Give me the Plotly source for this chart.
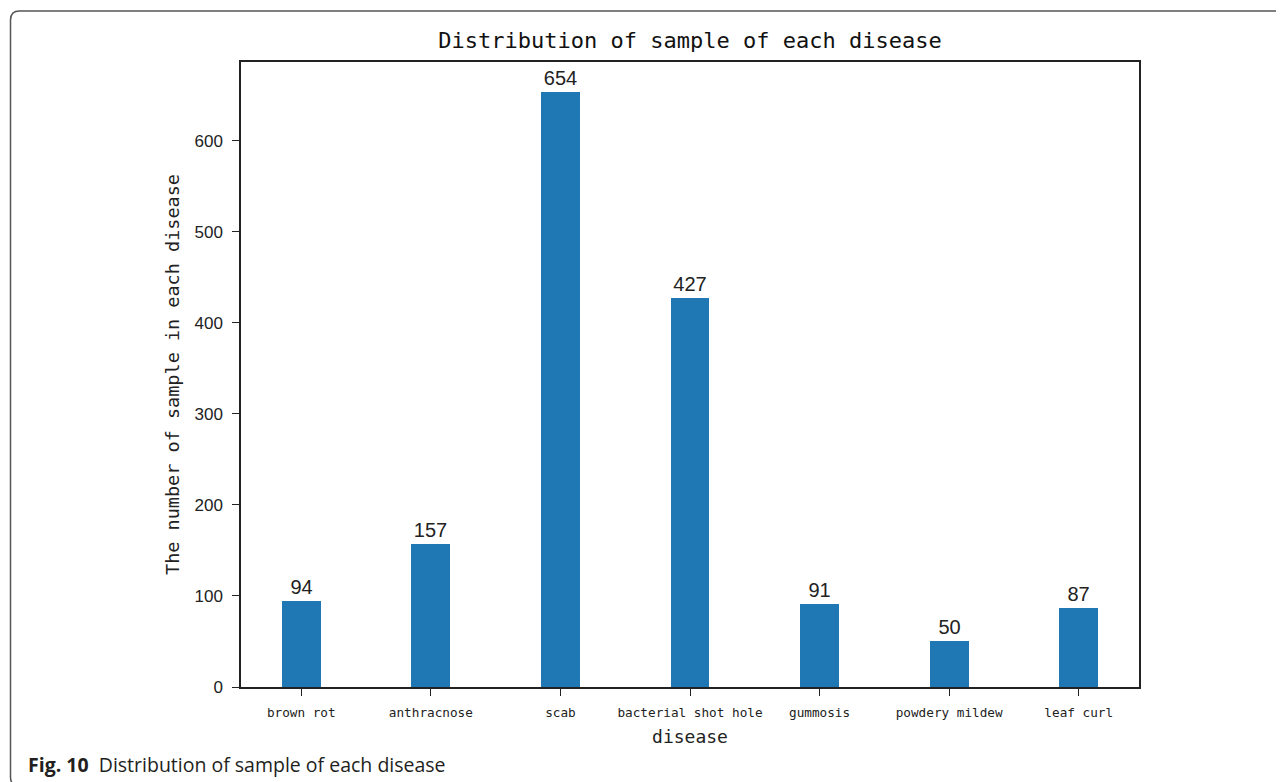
import plotly.graph_objects as go

categories = ["brown rot", "anthracnose", "scab", "bacterial shot hole",
              "gummosis", "powdery mildew", "leaf curl"]
counts = [94, 157, 654, 427, 91, 50, 87]
y_ticks = [0, 100, 200, 300, 400, 500, 600]

OFF = 8  # page body margin
W, H = 1284 - OFF, 782 - OFF
L, R, T, B = 241 - OFF, 1139 - OFF, 62 - OFF, 687 - OFF

def px(x):
    return (x - OFF - L) / (R - L)

def py(y):
    return (B - (y - OFF)) / (B - T)

fig = go.Figure()
fig.add_trace(go.Bar(
    x=list(range(len(categories))), y=counts, width=0.3,
    marker=dict(color="#1f77b4", line=dict(width=0)),
    text=[str(c) for c in counts], textposition="outside",
    textfont=dict(family="Liberation Sans", size=20, color="#222"),
    cliponaxis=False,
))

pts = [(1290, 11), (19.5, 11), (10.5, 11), (10.5, 20), (10.5, 777), (10.5, 786), (19.5, 786)]
c = [(px(x), py(y)) for x, y in pts]
border = ("M {:.5f} {:.5f} L {:.5f} {:.5f} Q {:.5f} {:.5f} {:.5f} {:.5f} "
          "L {:.5f} {:.5f} Q {:.5f} {:.5f} {:.5f} {:.5f}").format(*[v for p in c for v in p])
fig.add_shape(type="path", path=border, xref="paper", yref="paper",
              line=dict(color="#555", width=1.5))

fig.add_annotation(
    x=px(26), y=py(764), xref="paper", yref="paper", xanchor="left", yanchor="middle",
    showarrow=False,
    text="<b>Fig. 10</b>  Distribution of sample of each disease",
    font=dict(family="Open Sans", size=19.5, color="#231f20"),
)

fig.update_layout(
    width=W, height=H,
    margin=dict(l=L, r=W - R, t=T, b=H - B),
    paper_bgcolor="white", plot_bgcolor="white",
    showlegend=False,
    title=dict(text="Distribution of sample of each disease",
               x=0.5, xref="paper", y=1 - (40 - OFF) / H, yanchor="middle",
               font=dict(family="DejaVu Sans Mono", size=22, color="#111")),
    bargap=0,
)
fig.update_xaxes(
    range=[-0.465, 6.465], tickmode="array",
    tickvals=list(range(len(categories))), ticktext=categories,
    tickfont=dict(family="DejaVu Sans Mono", size=12.7, color="#222"),
    ticks="outside", ticklen=7, tickcolor="#222", tickwidth=1.2,
    ticklabelstandoff=6,
    showline=True, linecolor="#222", linewidth=1.5, mirror=True,
    showgrid=False, zeroline=False,
    title=dict(text="disease", font=dict(family="DejaVu Sans Mono", size=18, color="#222"),
               standoff=11),
)
fig.update_yaxes(
    range=[0, 686.7], tickmode="array", tickvals=y_ticks,
    tickfont=dict(family="Liberation Sans", size=17, color="#222"),
    ticks="outside", ticklen=7, tickcolor="#222", tickwidth=1.2,
    ticklabelstandoff=6,
    showline=True, linecolor="#222", linewidth=1.5, mirror=True,
    showgrid=False, zeroline=False,
    title=dict(text="The number of sample in each disease",
               font=dict(family="DejaVu Sans Mono", size=18.5, color="#222"),
               standoff=10),
)

fig.write_html("out.html")
